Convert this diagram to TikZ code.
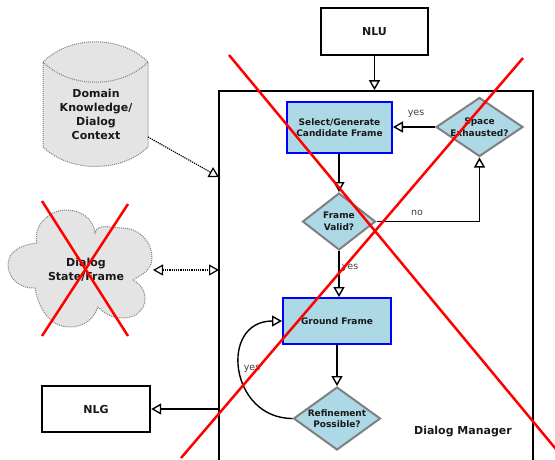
\documentclass[tikz,border=0pt]{standalone}
\usepackage{fontspec}
\setmainfont{DejaVu Sans}
\usetikzlibrary{shapes.geometric,arrows.meta}
\definecolor{lblue}{HTML}{ADD8E6}
\definecolor{dgray}{HTML}{808080}
\definecolor{shade}{HTML}{E4E4E4}
\definecolor{txtgray}{HTML}{404040}
\begin{document}
\begin{tikzpicture}[x=1pt,y=1pt,
  big/.style={font=\fontsize{11}{14}\selectfont\bfseries, align=center, text=black!90},
  small/.style={font=\fontsize{9}{11.5}\selectfont\bfseries, align=center, text=black!90},
  iobox/.style={draw=black, line width=2.4pt, minimum width=107pt, minimum height=47pt, big, inner sep=0pt},
  proc/.style={draw=blue, fill=lblue, line width=2pt, small, inner sep=0pt},
  dec/.style={diamond, draw=dgray, fill=lblue, line width=2pt, inner sep=0pt},
  arr/.style={line width=1.4pt, -{Triangle[fill=white,length=10pt,width=11pt]}},
  dotarr/.style={line width=1.2pt, dash pattern=on 1.2pt off 1pt, -{Triangle[fill=white,length=10pt,width=11pt]}},
  dotarr2/.style={line width=1.2pt, dash pattern=on 1.2pt off 1pt, {Triangle[fill=white,length=10pt,width=11pt]}-{Triangle[fill=white,length=10pt,width=11pt]}},
  lbl/.style={font=\fontsize{9.5}{11}\selectfont, text=txtgray, inner sep=0pt},
  store/.style={fill=shade, draw=dgray, line width=1pt, dash pattern=on 1pt off 1pt},
  cross/.style={draw=red, line width=2.5pt}
]
\useasboundingbox (0,0) rectangle (555,-459);
\clip (0,0) rectangle (555,-459);

% Dialog manager box
\node[draw=black, line width=1.6pt, minimum width=314pt, minimum height=380pt, inner sep=0pt] (dm) at (376,-281) {};
\node[big] (dmlabel) at (463,-432) {Dialog Manager};

% NLU / NLG
\node[iobox] (nlu) at (374.5,-31.5) {NLU};
\node[iobox, minimum width=108pt, minimum height=46pt] (nlg) at (96,-409) {NLG};

% Process boxes
\node[proc, minimum width=105pt, minimum height=51pt] (sel) at (339.5,-127.5) {Select/Generate\\Candidate Frame};
\node[proc, minimum width=108pt, minimum height=46pt] (gf) at (337,-321) {Ground Frame};

% Decisions
\node[dec, minimum width=87pt, minimum height=59pt] (space) at (479.5,-127) {};
\node[small] (spacet) at (space) {Space\\Exhausted?};
\node[dec, minimum width=73pt, minimum height=57pt] (fv) at (339,-221.5) {};
\node[small] (fvt) at (fv) {Frame\\Valid?};
\node[dec, minimum width=87pt, minimum height=63pt] (ref) at (337,-418.5) {};
\node[small] (reft) at (ref) {Refinement\\Possible?};

% Cylinder: domain knowledge
\path[store] (43,-62) .. controls (70,-35) and (121,-35) .. (148,-62)
  -- (148,-147) .. controls (121,-173) and (70,-173) .. (43,-147) -- cycle;
\draw[store, fill=none] (43,-62) .. controls (70,-89) and (121,-89) .. (148,-62);
\node[big] (dk) at (96,-114) {Domain\\Knowledge/\\Dialog\\Context};
\coordinate (dkout) at (148,-137);
\coordinate (dkin) at (219,-177);

% Cloud: dialog state
\path[store] (37,-243) to[out=105,in=180] (66,-210) to[out=0,in=95] (95,-233)
  to[out=75,in=180] (122,-228) to[out=0,in=90] (152,-258) to[out=-90,in=30] (133,-280)
  to[out=-30,in=90] (145,-299) to[out=-90,in=0] (124,-318) to[out=180,in=-45] (98,-307)
  to[out=-110,in=0] (70,-327) to[out=180,in=-80] (35,-288)
  to[out=185,in=-90] (8,-265) to[out=90,in=185] (37,-243) -- cycle;
\node[big] (ds) at (86,-270) {Dialog\\State/Frame};
\coordinate (cloudR) at (153,-270);
\coordinate (dsin) at (219,-270);

% Connectors
\draw[arr] (nlu.south) -- (nlu.south |- dm.north);
\draw[arr] (space.west) -- (sel.east |- space.west);
\node[lbl] (lyes1) at (416,-114) {yes};
\draw[arr] (sel.south -| fv.north) -- (fv.north);
\draw[arr] (fv.east) -| (space.south);
\node[lbl] (lno) at (417,-213) {no};
\draw[arr] (fv.south) -- (fv.south |- gf.north);
\node[lbl] (lyes2) at (350,-268) {yes};
\draw[arr] (gf.south) -- (gf.south |- ref.north);
\draw[arr] (ref.west) to[out=180,in=180,looseness=1.65] (gf.west);
\node[lbl] (lyes3) at (252,-369) {yes};
\draw[arr] (nlg.east -| dm.west) -- (nlg.east);
\draw[dotarr] (dkout) -- (dkin);
\draw[dotarr2] (cloudR) -- (dsin);

% Red crosses
\draw[cross] (229,-55) -- (560,-454);
\draw[cross] (523,-58) -- (181,-458);
\draw[cross] (42,-201) -- (128,-336);
\draw[cross] (128,-204) -- (42,-336);
\end{tikzpicture}
\end{document}
